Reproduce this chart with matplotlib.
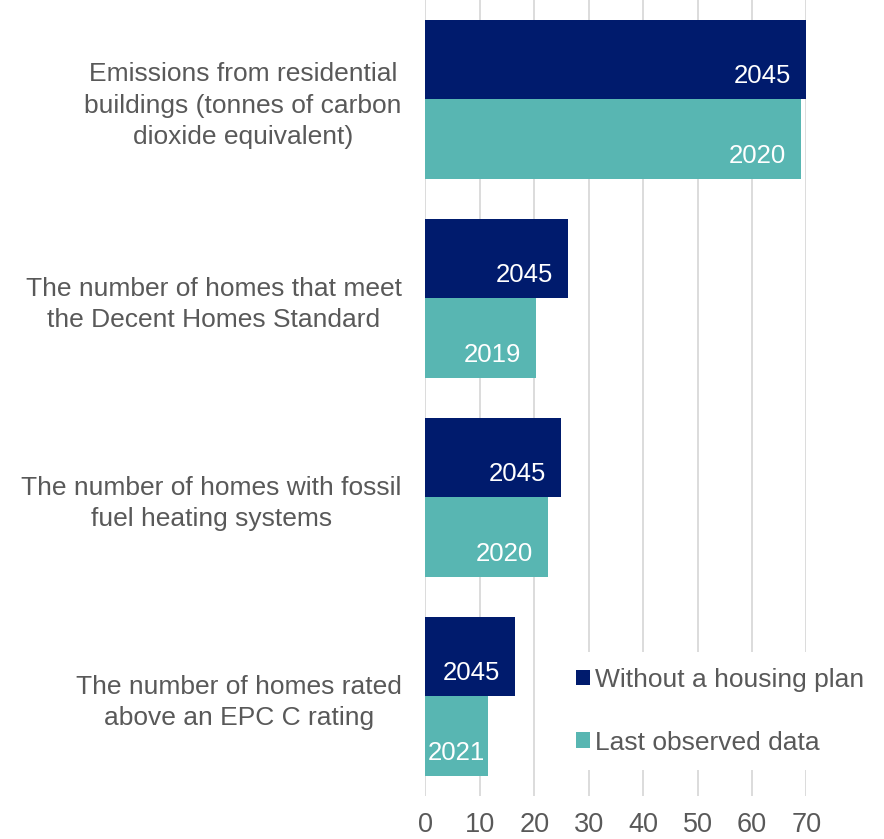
import matplotlib
matplotlib.use('Agg')
import matplotlib.pyplot as plt
import numpy as np

plt.rcParams['font.family'] = ['Liberation Sans', 'DejaVu Sans']

# Данные
categories = [
    'Emissions from residential\nbuildings (tonnes of carbon\ndioxide equivalent)',
    'The number of homes that meet\nthe Decent Homes Standard',
    'The number of homes with fossil\nfuel heating systems',
    'The number of homes rated\nabove an EPC C rating',
]
without_plan = [70.0, 26.2, 24.9, 16.5]
last_observed = [69.0, 20.3, 22.5, 11.4]
without_plan_years = ['2045', '2045', '2045', '2045']
last_observed_years = ['2020', '2019', '2020', '2021']
series_names = ['Without a housing plan', 'Last observed data']
xticks = [0, 10, 20, 30, 40, 50, 60, 70]

navy = '#001B6D'
teal = '#58B6B2'
grey = '#595959'

fig = plt.figure(figsize=(8.84, 8.39), dpi=100)
ax = fig.add_axes([0.4813, 0.0516, 0.9123 - 0.4813, 1 - 0.0516])

y = np.arange(len(categories))
h = 0.4
bars1 = ax.barh(y - h / 2, without_plan, height=h, color=navy, label=series_names[0], zorder=2)
bars2 = ax.barh(y + h / 2, last_observed, height=h, color=teal, label=series_names[1], zorder=2)

ax.set_ylim(3.5, -0.5)
ax.set_xlim(0, 70)
ax.set_xticks(xticks)
ax.set_yticks(y)
ax.set_yticklabels(categories, ha='right', multialignment='center', linespacing=1.38)
ax.tick_params(axis='y', length=0, pad=17, labelsize=19, labelcolor=grey)
ax.tick_params(axis='x', length=0, pad=12, labelsize=19.5, labelcolor=grey)
for s in ax.spines.values():
    s.set_visible(False)
ax.xaxis.grid(True, color='#D9D9D9', linewidth=1.3, zorder=0)
ax.set_axisbelow(True)

# подписи годов внутри столбцов
fig.canvas.draw()
renderer = fig.canvas.get_renderer()
pad_px = 15
for bars, labels in [(bars1, without_plan_years), (bars2, last_observed_years)]:
    for b, lab in zip(bars, labels):
        yc = b.get_y() + b.get_height() / 2
        t = ax.annotate(lab, (b.get_width(), yc), xytext=(-pad_px * 0.72, -12),
                        textcoords='offset points', ha='right', va='center',
                        color='white', fontsize=18.5, zorder=3)
        tw = t.get_window_extent(renderer).width
        x0 = ax.transData.transform((0, 0))[0]
        x1 = ax.transData.transform((b.get_width(), 0))[0]
        if x1 - x0 < tw + 2 * pad_px:
            t.remove()
            ax.annotate(lab, (b.get_width() / 2, yc), xytext=(0, -12),
                        textcoords='offset points', ha='center', va='center',
                        color='white', fontsize=18.5, zorder=3)

leg = ax.legend(loc='upper left', bbox_to_anchor=(0.6335, 0.2227), bbox_transform=fig.transFigure,
                frameon=True, facecolor='white', edgecolor='none', framealpha=1,
                fontsize=19, handlelength=0.53, handleheight=0.53, handletextpad=0.2,
                labelspacing=1.46, borderpad=0.6, borderaxespad=0)
for t in leg.get_texts():
    t.set_color(grey)
leg.set_zorder(5)

fig.savefig('out.png', dpi=100)
